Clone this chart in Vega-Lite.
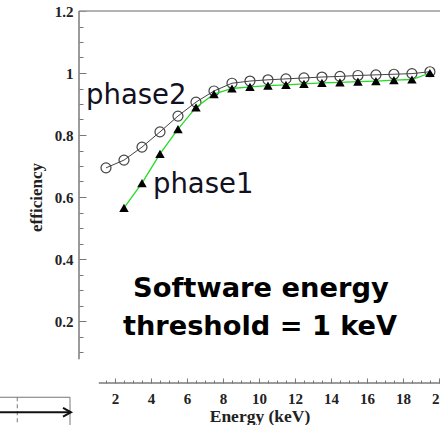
{
  "$schema": "https://vega.github.io/schema/vega-lite/v6.json",
  "width": 361,
  "height": 372,
  "autosize": {"type": "none"},
  "padding": {"left": 79, "top": 11, "right": 0, "bottom": 42},
  "background": "white",
  "config": {"view": {"stroke": null}},
  "data": {"values": [{}]},
  "datasets": {
    "eff": [
      {"phase": "phase2", "energy": 1.5, "eff": 0.694},
      {"phase": "phase2", "energy": 2.5, "eff": 0.719},
      {"phase": "phase2", "energy": 3.5, "eff": 0.761},
      {"phase": "phase2", "energy": 4.5, "eff": 0.81},
      {"phase": "phase2", "energy": 5.5, "eff": 0.861},
      {"phase": "phase2", "energy": 6.5, "eff": 0.906},
      {"phase": "phase2", "energy": 7.5, "eff": 0.942},
      {"phase": "phase2", "energy": 8.5, "eff": 0.967},
      {"phase": "phase2", "energy": 9.5, "eff": 0.974},
      {"phase": "phase2", "energy": 10.5, "eff": 0.978},
      {"phase": "phase2", "energy": 11.5, "eff": 0.981},
      {"phase": "phase2", "energy": 12.5, "eff": 0.984},
      {"phase": "phase2", "energy": 13.5, "eff": 0.987},
      {"phase": "phase2", "energy": 14.5, "eff": 0.989},
      {"phase": "phase2", "energy": 15.5, "eff": 0.992},
      {"phase": "phase2", "energy": 16.5, "eff": 0.994},
      {"phase": "phase2", "energy": 17.5, "eff": 0.996},
      {"phase": "phase2", "energy": 18.5, "eff": 0.998},
      {"phase": "phase2", "energy": 19.5, "eff": 1.004},
      {"phase": "phase1", "energy": 2.5, "eff": 0.565},
      {"phase": "phase1", "energy": 3.5, "eff": 0.645},
      {"phase": "phase1", "energy": 4.5, "eff": 0.739},
      {"phase": "phase1", "energy": 5.5, "eff": 0.819},
      {"phase": "phase1", "energy": 6.5, "eff": 0.889},
      {"phase": "phase1", "energy": 7.5, "eff": 0.932},
      {"phase": "phase1", "energy": 8.5, "eff": 0.95},
      {"phase": "phase1", "energy": 9.5, "eff": 0.955},
      {"phase": "phase1", "energy": 10.5, "eff": 0.959},
      {"phase": "phase1", "energy": 11.5, "eff": 0.962},
      {"phase": "phase1", "energy": 12.5, "eff": 0.965},
      {"phase": "phase1", "energy": 13.5, "eff": 0.968},
      {"phase": "phase1", "energy": 14.5, "eff": 0.97},
      {"phase": "phase1", "energy": 15.5, "eff": 0.972},
      {"phase": "phase1", "energy": 16.5, "eff": 0.974},
      {"phase": "phase1", "energy": 17.5, "eff": 0.977},
      {"phase": "phase1", "energy": 18.5, "eff": 0.979},
      {"phase": "phase1", "energy": 19.5, "eff": 1.0}
    ]
  },
  "layer": [
    {
      "data": {"name": "eff"},
      "transform": [{"filter": "datum.phase === 'phase2'"}],
      "mark": {"type": "line", "color": "#444444", "strokeWidth": 1},
      "encoding": {
        "x": {
          "field": "energy", "type": "quantitative",
          "scale": {"domain": [0, 20.06], "nice": false, "zero": false},
          "axis": {
            "title": "Energy (keV)",
            "values": [1.5, 2, 2.5, 3, 3.5, 4, 4.5, 5, 5.5, 6, 6.5, 7, 7.5, 8, 8.5, 9, 9.5, 10, 10.5, 11, 11.5, 12, 12.5, 13, 13.5, 14, 14.5, 15, 15.5, 16, 16.5, 17, 17.5, 18, 18.5, 19, 19.5, 20],
            "tickCount": 500,
            "labelExpr": "datum.value % 2 === 0 ? datum.label : ''",
            "format": "~g",
            "domain": false,
            "grid": false,
            "tickColor": "#777777",
            "tickWidth": 1,
            "tickSize": {"condition": {"test": "datum.value % 2 === 0", "value": -5}, "value": -3},
            "labelPadding": 13,
            "labelFlush": false,
            "labelOverlap": false,
            "labelFont": "Liberation Serif",
            "labelFontWeight": "bold",
            "labelFontSize": 15,
            "labelColor": "#222222",
            "titleFont": "Liberation Serif",
            "titleFontWeight": "bold",
            "titleFontSize": 17.5,
            "titleColor": "#222222",
            "titlePadding": -1
          }
        },
        "y": {
          "field": "eff", "type": "quantitative",
          "scale": {"domain": [0, 1.2], "nice": false, "zero": false},
          "axis": {
            "title": "efficiency",
            "values": [0.1, 0.15, 0.2, 0.25, 0.3, 0.35, 0.4, 0.45, 0.5, 0.55, 0.6, 0.65, 0.7, 0.75, 0.8, 0.85, 0.9, 0.95, 1, 1.05, 1.1, 1.15, 1.2],
            "tickCount": 500,
            "format": "~g",
            "labelExpr": "abs(datum.value * 5 - round(datum.value * 5)) < 0.001 ? datum.label : ''",
            "domain": false,
            "grid": false,
            "tickColor": "#777777",
            "tickWidth": 1,
            "tickSize": {"condition": {"test": "abs(datum.value * 5 - round(datum.value * 5)) < 0.001", "value": -7}, "value": -4},
            "labelPadding": 13,
            "labelOverlap": false,
            "labelFont": "Liberation Serif",
            "labelFontWeight": "bold",
            "labelFontSize": 15,
            "labelColor": "#222222",
            "titleFont": "Liberation Serif",
            "titleFontWeight": "bold",
            "titleFontSize": 17,
            "titleColor": "#222222",
            "titlePadding": 9
          }
        }
      }
    },
    {
      "mark": {"type": "rule", "color": "#9a9a9a", "strokeWidth": 1.5},
      "encoding": {
        "x": {"datum": 0, "type": "quantitative", "scale": {"domain": [0, 20.06], "nice": false, "zero": false}},
        "x2": {"datum": 20.06},
        "y": {"datum": 1.2, "type": "quantitative", "scale": {"domain": [0, 1.2], "nice": false, "zero": false}}
      }
    },
    {
      "mark": {"type": "rule", "color": "#7a7a7a", "strokeWidth": 1.5},
      "encoding": {
        "x": {"datum": 0, "type": "quantitative", "scale": {"domain": [0, 20.06], "nice": false, "zero": false}},
        "y": {"datum": 0.077, "type": "quantitative", "scale": {"domain": [0, 1.2], "nice": false, "zero": false}},
        "y2": {"datum": 1.2}
      }
    },
    {
      "mark": {"type": "rule", "color": "#7a7a7a", "strokeWidth": 1.5},
      "encoding": {
        "x": {"datum": 1.1, "type": "quantitative", "scale": {"domain": [0, 20.06], "nice": false, "zero": false}},
        "x2": {"datum": 20.06},
        "y": {"datum": 0, "type": "quantitative", "scale": {"domain": [0, 1.2], "nice": false, "zero": false}}
      }
    },
    {
      "data": {"name": "eff"},
      "transform": [{"filter": "datum.phase === 'phase2'"}],
      "mark": {"type": "point", "shape": "circle", "filled": false, "stroke": "#444444", "strokeWidth": 1.2, "size": 100, "opacity": 1},
      "encoding": {
        "x": {"field": "energy", "type": "quantitative", "scale": {"domain": [0, 20.06], "nice": false, "zero": false}},
        "y": {"field": "eff", "type": "quantitative", "scale": {"domain": [0, 1.2], "nice": false, "zero": false}}
      }
    },
    {
      "data": {"name": "eff"},
      "transform": [{"filter": "datum.phase === 'phase1'"}],
      "mark": {"type": "line", "color": "#22dd22", "strokeWidth": 1.3},
      "encoding": {
        "x": {"field": "energy", "type": "quantitative", "scale": {"domain": [0, 20.06], "nice": false, "zero": false}},
        "y": {"field": "eff", "type": "quantitative", "scale": {"domain": [0, 1.2], "nice": false, "zero": false}}
      }
    },
    {
      "data": {"name": "eff"},
      "transform": [{"filter": "datum.phase === 'phase1'"}],
      "mark": {"type": "point", "shape": "triangle-up", "filled": true, "color": "#000000", "size": 90, "opacity": 1},
      "encoding": {
        "x": {"field": "energy", "type": "quantitative", "scale": {"domain": [0, 20.06], "nice": false, "zero": false}},
        "y": {"field": "eff", "type": "quantitative", "scale": {"domain": [0, 1.2], "nice": false, "zero": false}}
      }
    },
    {
      "mark": {"type": "text", "text": "phase2", "font": "DejaVu Sans", "fontSize": 27.5, "align": "left", "baseline": "alphabetic", "color": "#111122"},
      "encoding": {
        "x": {"datum": 0.39, "type": "quantitative", "scale": {"domain": [0, 20.06], "nice": false, "zero": false}},
        "y": {"datum": 0.9, "type": "quantitative", "scale": {"domain": [0, 1.2], "nice": false, "zero": false}}
      }
    },
    {
      "mark": {"type": "text", "text": "phase1", "font": "DejaVu Sans", "fontSize": 27.5, "align": "left", "baseline": "alphabetic", "color": "#111122"},
      "encoding": {
        "x": {"datum": 4.11, "type": "quantitative", "scale": {"domain": [0, 20.06], "nice": false, "zero": false}},
        "y": {"datum": 0.613, "type": "quantitative", "scale": {"domain": [0, 1.2], "nice": false, "zero": false}}
      }
    },
    {
      "mark": {"type": "text", "text": "Software energy", "font": "DejaVu Sans", "fontWeight": "bold", "fontSize": 27.3, "align": "center", "baseline": "alphabetic", "color": "#000000"},
      "encoding": {
        "x": {"datum": 10.11, "type": "quantitative", "scale": {"domain": [0, 20.06], "nice": false, "zero": false}},
        "y": {"datum": 0.277, "type": "quantitative", "scale": {"domain": [0, 1.2], "nice": false, "zero": false}}
      }
    },
    {
      "mark": {"type": "text", "text": "threshold = 1 keV", "font": "DejaVu Sans", "fontWeight": "bold", "fontSize": 27.2, "align": "center", "baseline": "alphabetic", "color": "#000000"},
      "encoding": {
        "x": {"datum": 10.06, "type": "quantitative", "scale": {"domain": [0, 20.06], "nice": false, "zero": false}},
        "y": {"datum": 0.155, "type": "quantitative", "scale": {"domain": [0, 1.2], "nice": false, "zero": false}}
      }
    },
    {
      "mark": {"type": "rect", "filled": false, "stroke": "#777777", "strokeWidth": 1},
      "encoding": {
        "x": {"datum": -5, "type": "quantitative", "scale": {"domain": [0, 20.06], "nice": false, "zero": false}},
        "x2": {"datum": -0.5},
        "y": {"datum": -0.046, "type": "quantitative", "scale": {"domain": [0, 1.2], "nice": false, "zero": false}},
        "y2": {"datum": -0.3}
      }
    },
    {
      "mark": {"type": "rule", "color": "#777777", "strokeWidth": 1, "strokeDash": [4, 3]},
      "encoding": {
        "x": {"datum": -3.43, "type": "quantitative", "scale": {"domain": [0, 20.06], "nice": false, "zero": false}},
        "y": {"datum": -0.046, "type": "quantitative", "scale": {"domain": [0, 1.2], "nice": false, "zero": false}},
        "y2": {"datum": -0.3}
      }
    },
    {
      "mark": {"type": "rule", "color": "#111111", "strokeWidth": 2},
      "encoding": {
        "x": {"datum": -5, "type": "quantitative", "scale": {"domain": [0, 20.06], "nice": false, "zero": false}},
        "x2": {"datum": -0.47},
        "y": {"datum": -0.0945, "type": "quantitative", "scale": {"domain": [0, 1.2], "nice": false, "zero": false}}
      }
    },
    {
      "mark": {"type": "point", "shape": "M-2,-1.1L0,0L-2,1.1", "filled": false, "stroke": "#111111", "strokeWidth": 2, "size": 64, "opacity": 1},
      "encoding": {
        "x": {"datum": -0.444, "type": "quantitative", "scale": {"domain": [0, 20.06], "nice": false, "zero": false}},
        "y": {"datum": -0.0945, "type": "quantitative", "scale": {"domain": [0, 1.2], "nice": false, "zero": false}}
      }
    }
  ]
}
